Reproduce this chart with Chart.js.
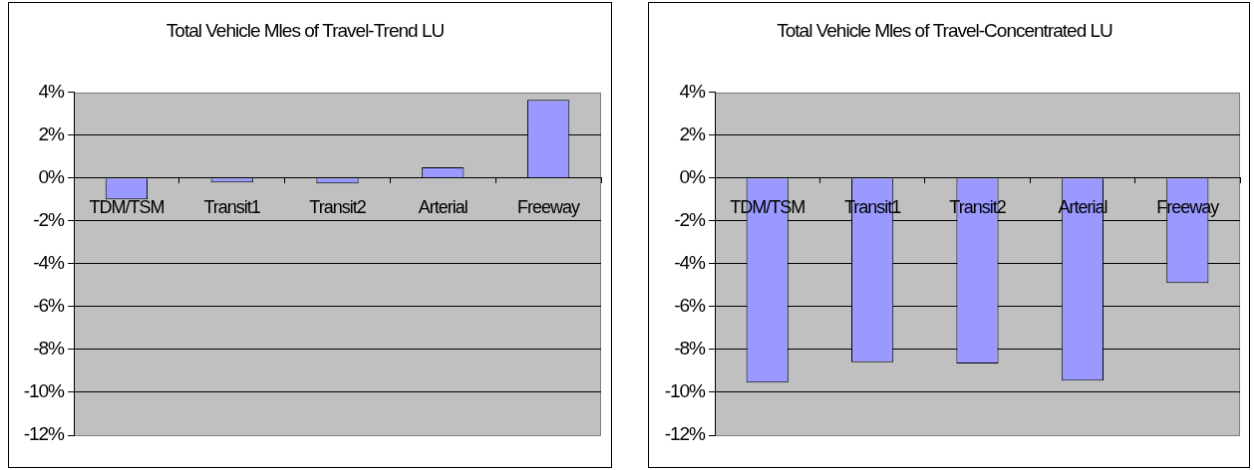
<!DOCTYPE html>
<html>
<head>
<meta charset="utf-8">
<script src="https://cdn.jsdelivr.net/npm/chart.js@4"></script>
<style>
body { margin: 0; background: #fff; width: 1254px; height: 470px; position: relative; overflow: hidden; }
canvas { position: absolute; border: 1px solid #000; }
#trend { left: 8px; top: 2px; }
#conc { left: 648px; top: 2px; }
</style>
</head>
<body>
<canvas id="trend" width="604" height="466"></canvas>
<canvas id="conc" width="602" height="466"></canvas>
<script>
const categories = ['TDM/TSM', 'Transit1', 'Transit2', 'Arterial', 'Freeway'];
const trendValues = [-1.0, -0.2, -0.25, 0.5, 3.65];
const concentratedValues = [-9.55, -8.6, -8.65, -9.45, -4.9];
const yTicks = [4, 2, 0, -2, -4, -6, -8, -10, -12];

const FONT = '"Liberation Sans", Arial, sans-serif';

// grey plot area with a grey frame, like the old spreadsheet charts
const plotFrame = {
    id: 'plotFrame',
    beforeDraw(chart) {
        const { ctx, chartArea: a } = chart;
        ctx.save();
        ctx.fillStyle = '#c0c0c0';
        ctx.fillRect(a.left, a.top, a.width, a.height);
        ctx.strokeStyle = '#808080';
        ctx.lineWidth = 1;
        ctx.strokeRect(Math.round(a.left) + 0.5, Math.round(a.top) + 0.5, Math.round(a.width) - 1, Math.round(a.height));
        ctx.restore();
        ctx.letterSpacing = '-1px';
    }
};

function makeChart(id, title, values, axisWidth, padRight) {
    return new Chart(document.getElementById(id), {
        type: 'bar',
        data: {
            labels: categories,
            datasets: [{
                data: values,
                backgroundColor: '#9999ff',
                borderColor: '#000',
                borderWidth: 1,
                categoryPercentage: 1,
                barPercentage: 0.4
            }]
        },
        options: {
            responsive: false,
            animation: false,
            layout: { padding: { left: 0, right: padRight, top: 0, bottom: 32 } },
            plugins: {
                legend: { display: false },
                tooltip: { enabled: false },
                title: {
                    display: true,
                    text: title,
                    color: '#000',
                    font: { family: FONT, size: 19, weight: 'normal' },
                    padding: { top: 17, bottom: 50 }
                }
            },
            scales: {
                x: {
                    position: { y: 0 },
                    offset: true,
                    grid: { display: true, drawOnChartArea: false, drawTicks: true, tickLength: 5, color: '#000', offset: true },
                    border: { display: true, color: '#000', width: 1 },
                    ticks: {
                        color: '#000',
                        font: { family: FONT, size: 18 },
                        padding: 14,
                        maxRotation: 0,
                        autoSkip: false,
                        z: 1
                    }
                },
                y: {
                    min: Math.min(...yTicks),
                    max: Math.max(...yTicks),
                    afterBuildTicks: axis => { axis.ticks = yTicks.map(v => ({ value: v })); },
                    afterFit: axis => { axis.width = axisWidth; },
                    grid: {
                        color: c => (c.tick && (c.tick.value === 4 || c.tick.value === -12)) ? 'rgba(0,0,0,0)' : '#000',
                        tickColor: '#000',
                        tickLength: 6
                    },
                    border: { display: true, color: '#000', width: 1 },
                    ticks: {
                        color: '#000',
                        font: { family: FONT, size: 19 },
                        padding: 4,
                        callback: v => v + '%'
                    }
                }
            }
        },
        plugins: [plotFrame]
    });
}

makeChart('trend', 'Total Vehicle Mles of Travel-Trend LU', trendValues, 65, 10);
makeChart('conc', 'Total Vehicle Mles of Travel-Concentrated LU', concentratedValues, 66, 9);
</script>
</body>
</html>
